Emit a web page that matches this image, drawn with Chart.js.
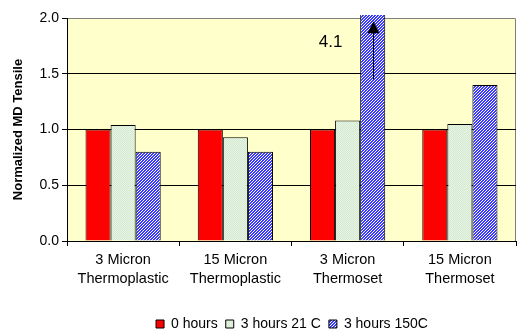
<!DOCTYPE html>
<html>
<head>
<meta charset="utf-8">
<script src="https://cdn.jsdelivr.net/npm/chart.js@4/dist/chart.umd.min.js"></script>
<style>
  body { margin: 0; background: #fff; }
  #wrap { width: 521px; height: 330px; }
</style>
</head>
<body>
<div id="wrap"><canvas id="myChart" width="521" height="330"></canvas></div>
<script>
// data
var categories = [['3 Micron', 'Thermoplastic'], ['15 Micron', 'Thermoplastic'], ['3 Micron', 'Thermoset'], ['15 Micron', 'Thermoset']];
var seriesNames = ['0 hours', '3 hours 21 C', '3 hours 150C'];
var hours0 = [1.0, 1.0, 1.0, 1.0];
var hours3at21 = [1.04, 0.93, 1.08, 1.05];
var hours3at150 = [0.80, 0.80, 4.1, 1.40];
var yTicks = [0, 0.5, 1.0, 1.5, 2.0];
var calloutText = '4.1';
var calloutFrom = 1.45;   // arrow tail (value units)
var calloutTo = 1.97;     // arrow head (value units)
var calloutTextAt = 1.78;

function makeGreen() {
    var c = document.createElement('canvas');
    c.width = 2; c.height = 2;
    var g = c.getContext('2d');
    g.fillStyle = '#e9f5e6';
    g.fillRect(0, 0, 2, 2);
    g.fillStyle = '#d2e8cf';
    g.fillRect(0, 0, 1, 1);
    g.fillRect(1, 1, 1, 1);
    return g.createPattern(c, 'repeat');
}

function makeBlue() {
    var c = document.createElement('canvas');
    c.width = 3; c.height = 3;
    var g = c.getContext('2d');
    g.fillStyle = '#ffffff';
    g.fillRect(0, 0, 3, 3);
    g.fillStyle = '#3a3aff';
    for (var i = 0; i < 3; i++) {
        g.fillRect((2 - i + 3) % 3, i, 1, 1);
        g.fillRect((3 - i) % 3, i, 1, 1);
    }
    return g.createPattern(c, 'repeat');
}

var plotFrame = {
    id: 'plotFrame',
    afterLayout: function(chart) {
        // Excel centres the legend under the plot area, not the whole canvas
        var a = chart.chartArea, lg = chart.legend;
        var shift = Math.round((a.left + a.right) / 2 - (lg.left + lg.right) / 2);
        lg.left += shift;
        lg.right += shift;
    },
    beforeDraw: function(chart) {
        var a = chart.chartArea, ctx = chart.ctx;
        ctx.save();
        ctx.fillStyle = '#ffffcc';
        ctx.fillRect(a.left, a.top, a.right - a.left, a.bottom - a.top);
        ctx.strokeStyle = '#808080';
        ctx.lineWidth = 1;
        ctx.beginPath();
        ctx.moveTo(a.left, a.top + 0.5);
        ctx.lineTo(a.right - 0.5, a.top + 0.5);
        ctx.lineTo(a.right - 0.5, a.bottom);
        ctx.stroke();
        ctx.restore();
    },
    afterDatasetsDraw: function(chart) {
        var ctx = chart.ctx;
        var y = chart.scales.y, x = chart.scales.x;
        var bar = chart.getDatasetMeta(2).data[2];
        var ax = Math.round(bar.x) + 0.5;
        var y1 = y.getPixelForValue(calloutFrom);
        var y2 = y.getPixelForValue(calloutTo);
        ctx.save();
        ctx.strokeStyle = '#000';
        ctx.fillStyle = '#000';
        ctx.lineWidth = 1;
        ctx.beginPath();
        ctx.moveTo(ax, y1);
        ctx.lineTo(ax, y2 + 10);
        ctx.stroke();
        ctx.beginPath();
        ctx.moveTo(ax, y2);
        ctx.lineTo(ax - 6, y2 + 12);
        ctx.lineTo(ax + 6, y2 + 12);
        ctx.closePath();
        ctx.fill();
        ctx.font = '17px "Liberation Sans", Arial, sans-serif';
        ctx.textAlign = 'center';
        ctx.textBaseline = 'middle';
        ctx.fillText(calloutText, x.getPixelForValue(2) - 17, y.getPixelForValue(calloutTextAt));
        ctx.restore();
    }
};

var ctx = document.getElementById('myChart');
var font = '"Liberation Sans", Arial, sans-serif';
var config = {
    type: 'bar',
    data: {
        labels: categories,
        datasets: [{
            label: seriesNames[0],
            data: hours0,
            backgroundColor: '#ff0000',
            borderColor: '#000',
            borderWidth: 1
        }, {
            label: seriesNames[1],
            data: hours3at21,
            backgroundColor: makeGreen(),
            borderColor: '#000',
            borderWidth: 1
        }, {
            label: seriesNames[2],
            data: hours3at150,
            backgroundColor: makeBlue(),
            borderColor: '#000',
            borderWidth: 1,
            clip: { left: 0, right: 0, top: 3, bottom: 0 }
        }]
    },
    options: {
        responsive: false,
        animation: false,
        devicePixelRatio: 1,
        layout: { padding: { left: 8, right: 5, top: 18, bottom: -11 } },
        datasets: { bar: { barPercentage: 1, categoryPercentage: 0.67 } },
        plugins: {
            tooltip: { enabled: false },
            legend: {
                position: 'bottom',
                labels: {
                    color: '#000',
                    font: { family: font, size: 14 },
                    boxWidth: 8,
                    boxHeight: 8,
                    padding: 8
                }
            }
        },
        scales: {
            x: {
                grid: { display: true, drawOnChartArea: false, color: '#000', tickLength: 5, offset: true },
                border: { color: '#000' },
                ticks: { color: '#000', font: { family: font, size: 14.5, lineHeight: 1.3 }, maxRotation: 0, padding: 5 },
                afterFit: function(s) { s.height = 68; }
            },
            y: {
                min: 0,
                max: 2,
                afterBuildTicks: function(s) { s.ticks = yTicks.map(function(v) { return { value: v }; }); },
                grid: {
                    color: function(c) { return c.tick && c.tick.value === 2 ? 'rgba(0,0,0,0)' : '#000'; },
                    tickColor: '#000',
                    tickLength: 5
                },
                border: { color: '#000' },
                ticks: {
                    color: '#000',
                    font: { family: font, size: 14 },
                    padding: 3,
                    callback: function(v) { return v.toFixed(1); }
                },
                title: {
                    display: true,
                    text: 'Normalized MD Tensile',
                    color: '#000',
                    font: { family: font, size: 13, weight: 'bold' },
                    padding: { top: 3, bottom: 1 }
                },
                afterFit: function(s) { s.width = 59; }
            }
        }
    },
    plugins: [plotFrame]
};
var myChart = new Chart(ctx, config);
</script>
</body>
</html>
